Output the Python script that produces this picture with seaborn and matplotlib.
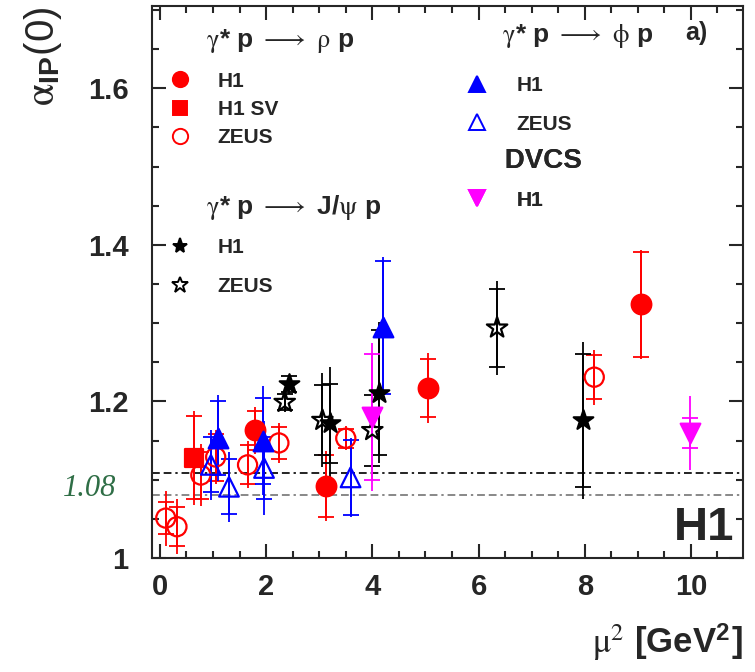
import matplotlib
matplotlib.use("Agg")
import matplotlib.pyplot as plt
import matplotlib.transforms as mtransforms
from matplotlib.lines import Line2D
from matplotlib.ticker import MultipleLocator, FormatStrFormatter
import seaborn as sns

# gamma* p -> rho p
rho_h1_x = [1.79, 3.12, 5.04, 9.06]
rho_h1_y = [1.163, 1.092, 1.217, 1.324]
rho_h1_stat = [0.025, 0.040, 0.037, 0.067]
rho_h1_tot = [0.030, 0.045, 0.045, 0.070]

rho_sv_x = [0.65]
rho_sv_y = [1.128]
rho_sv_stat = [0.053]
rho_sv_tot = [0.060]

rho_zeus_x = [0.11, 0.32, 0.77, 1.05, 1.65, 2.24, 3.50, 8.18]
rho_zeus_y = [1.051, 1.040, 1.106, 1.129, 1.119, 1.147, 1.153, 1.231]
rho_zeus_stat = [0.020, 0.025, 0.030, 0.030, 0.025, 0.020, 0.012, 0.028]
rho_zeus_tot = [0.035, 0.035, 0.040, 0.035, 0.030, 0.025, 0.015, 0.035]

# gamma* p -> phi p
phi_h1_x = [1.09, 1.94, 4.21]
phi_h1_y = [1.153, 1.150, 1.295]
phi_h1_stat = [0.047, 0.055, 0.085]
phi_h1_tot = [0.055, 0.070, 0.090]

phi_zeus_x = [0.96, 1.30, 1.96, 3.59]
phi_zeus_y = [1.119, 1.091, 1.115, 1.103]
phi_zeus_stat = [0.035, 0.035, 0.040, 0.048]
phi_zeus_tot = [0.045, 0.045, 0.060, 0.050]

# gamma* p -> J/psi p
jpsi_h1_x = [2.44, 3.20, 4.12, 7.97]
jpsi_h1_y = [1.222, 1.172, 1.211, 1.176]
jpsi_h1_stat = [0.010, 0.050, 0.080, 0.085]
jpsi_h1_tot = [0.012, 0.072, 0.090, 0.100]

jpsi_zeus_x = [2.35, 3.06, 4.00, 6.35]
jpsi_zeus_y = [1.199, 1.176, 1.163, 1.294]
jpsi_zeus_stat = [0.010, 0.045, 0.045, 0.050]
jpsi_zeus_tot = [0.012, 0.060, 0.060, 0.060]

# DVCS
dvcs_x = [4.00, 9.98]
dvcs_y = [1.180, 1.160]
dvcs_stat = [0.080, 0.019]
dvcs_tot = [0.095, 0.047]

ref_lines = [1.108, 1.08]

sns.set_style("ticks")
plt.rcParams['font.family'] = ['Liberation Sans', 'DejaVu Sans']
plt.rcParams['mathtext.fontset'] = 'custom'
plt.rcParams['mathtext.rm'] = 'STIXGeneral'
plt.rcParams['mathtext.it'] = 'STIXGeneral:italic'
plt.rcParams['mathtext.bf'] = 'Liberation Sans:bold'

fig = plt.figure(figsize=(7.55, 6.72), dpi=100)
ax = fig.add_axes([0.2013, 0.1696, 0.7827, 0.8214])

RED, BLUE, MAG, BLK = '#ff0000', '#0000ff', '#ff00ff', '#000000'


def draw(x, y, stat, tot, color, marker, size, filled):
    lo = [a - b for a, b in zip(y, tot)]
    hi = [a + b for a, b in zip(y, tot)]
    ax.vlines(x, lo, hi, color=color, lw=1.3, zorder=2)
    ax.errorbar(x, y, yerr=stat, fmt='none', ecolor=color, elinewidth=1.3,
                capsize=6, capthick=1.3, zorder=2)
    sns.scatterplot(x=x, y=y, marker=marker, s=size, color=color,
                    facecolor=color if filled else 'none', edgecolor=color,
                    linewidth=1.6, ax=ax, zorder=3, legend=False)


draw(rho_h1_x, rho_h1_y, rho_h1_stat, rho_h1_tot, RED, 'o', 200, True)
draw(rho_sv_x, rho_sv_y, rho_sv_stat, rho_sv_tot, RED, 's', 160, True)
draw(rho_zeus_x, rho_zeus_y, rho_zeus_stat, rho_zeus_tot, RED, 'o', 190, False)
draw(phi_zeus_x, phi_zeus_y, phi_zeus_stat, phi_zeus_tot, BLUE, '^', 200, False)
draw(phi_h1_x, phi_h1_y, phi_h1_stat, phi_h1_tot, BLUE, '^', 200, True)
draw(jpsi_zeus_x, jpsi_zeus_y, jpsi_zeus_stat, jpsi_zeus_tot, BLK, '*', 240, False)
draw(jpsi_h1_x, jpsi_h1_y, jpsi_h1_stat, jpsi_h1_tot, BLK, '*', 220, True)
draw(dvcs_x, dvcs_y, dvcs_stat, dvcs_tot, MAG, 'v', 200, True)

ax.axhline(ref_lines[0], color='#222222', lw=1.4, ls=(0, (4, 2, 4, 2, 1.2, 2)), zorder=1)
ax.axhline(ref_lines[1], color='#888888', lw=1.4, ls=(0, (4, 2, 4, 2, 1.2, 2)), zorder=1)

ax.set_xlim(-0.15, 10.98)
ax.set_ylim(1.0, 1.705)
ax.xaxis.set_major_locator(MultipleLocator(2))
ax.xaxis.set_minor_locator(MultipleLocator(0.5))
ax.yaxis.set_major_locator(MultipleLocator(0.2))
ax.yaxis.set_minor_locator(MultipleLocator(0.05))
ax.yaxis.set_major_formatter(FormatStrFormatter('%g'))
ax.tick_params(which='both', direction='in', top=True, right=True, width=1.5)
ax.tick_params(which='major', length=10)
ax.tick_params(which='minor', length=5)
ax.tick_params(axis='y', pad=17, labelsize=21)
ax.tick_params(axis='x', pad=11, labelsize=21)
for lab in ax.get_xticklabels() + ax.get_yticklabels():
    lab.set_fontweight('bold')
for sp in ax.spines.values():
    sp.set_linewidth(1.5)

# reference value label
trans = mtransforms.blended_transform_factory(ax.transAxes, ax.transData)
ax.text(-0.06, 1.089, "1.08", transform=trans, ha='right', va='center',
        family='Liberation Serif', style='italic', fontsize=22, color='#2f6e46')

ax.text(0.986, 0.033, "H1", transform=ax.transAxes, ha='right', va='baseline',
        fontsize=34, fontweight='bold')
ax.text(0.902, 0.951, "a)", transform=ax.transAxes, ha='left', va='center',
        fontsize=18, fontweight='bold')

# legends
prop = {'family': 'Liberation Sans', 'weight': 'bold', 'size': 15}


def handle(color, marker, filled, ms=11):
    return Line2D([], [], ls='none', marker=marker, color=color, markersize=ms,
                  markerfacecolor=color if filled else 'none', markeredgewidth=1.4)


def add_legend(handles, labels, title, x, y, textpad, spacing, tsize=19, sep=12):
    leg = ax.legend(handles, labels, title=title, loc='upper left',
                    bbox_to_anchor=(x, y), frameon=False, prop=prop,
                    title_fontproperties={'family': 'Liberation Sans', 'weight': 'bold', 'size': tsize},
                    alignment='left', handlelength=1.0, handletextpad=textpad,
                    labelspacing=spacing, borderpad=0, borderaxespad=0)
    leg._legend_box.sep = sep
    ax.add_artist(leg)


add_legend([handle(RED, 'o', True), handle(RED, 's', True, 10), handle(RED, 'o', False)],
           ['H1', 'H1 SV', 'ZEUS'],
           "     $\\mathrm{\\gamma}$* p $\\longrightarrow$ $\\mathrm{\\rho}$ p",
           0.030, 0.962, 1.3, 0.45)
add_legend([handle(BLK, '*', True), handle(BLK, '*', False, 12)],
           ['H1', 'ZEUS'],
           "     $\\mathrm{\\gamma}$* p $\\longrightarrow$ J/$\\mathrm{\\psi}$ p",
           0.030, 0.662, 1.3, 0.95)
add_legend([handle(BLUE, '^', True), handle(BLUE, '^', False)],
           ['H1', 'ZEUS'],
           "     $\\mathrm{\\gamma}$* p $\\longrightarrow$ $\\mathrm{\\phi}$ p",
           0.532, 0.972, 1.42, 0.95, sep=19)
add_legend([handle(MAG, 'v', True)], ['H1'], "     DVCS",
           0.532, 0.743, 1.42, 0.6, tsize=20)

fig.text(0.057, 0.991, "$\\mathrm{\\alpha}_{\\mathbf{IP}}$(0)", rotation=90,
         ha='center', va='top', fontsize=29)
fig.text(0.984, 0.014, "$\\mathrm{\\mu}^{2}$ [GeV$^{\\mathbf{2}}$]", ha='right',
         va='bottom', fontsize=25, fontweight='bold')

fig.savefig("out.png", dpi=100)
